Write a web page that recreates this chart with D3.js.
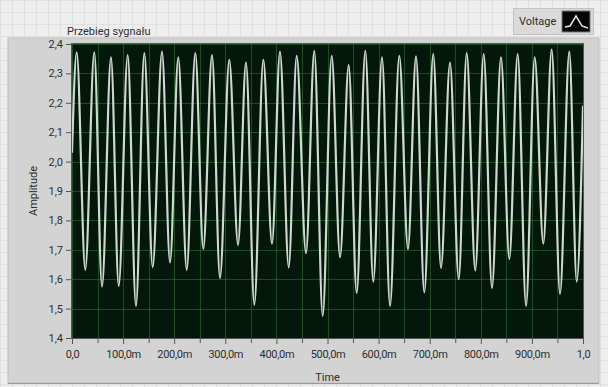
<!DOCTYPE html>
<html>
<head>
<meta charset="utf-8">
<script src="https://cdn.jsdelivr.net/npm/d3@7/dist/d3.min.js"></script>
<style>
  html, body { margin: 0; padding: 0; background: #ededed; }
  svg { display: block; }
  text { font-family: Roboto, "DejaVu Sans", sans-serif; fill: #2e2e2e; }
</style>
</head>
<body>
<svg id="chart" width="608" height="387"></svg>
<script>
// ---- data (extrema of the waveform) ----
const times = [0.0000,
  0.0092,0.0260,0.0436,0.0587,0.0763,0.0914,0.1090,0.1252,0.1415,0.1579,
  0.1761,0.1918,0.2080,0.2245,0.2413,0.2569,0.2740,0.2896,0.3078,0.3249,
  0.3405,0.3568,0.3744,0.3914,0.4070,0.4241,0.4397,0.4579,0.4742,0.4906,
  0.5082,0.5245,0.5415,0.5571,0.5740,0.5896,0.6067,0.6223,0.6405,0.6575,
  0.6732,0.6894,0.7070,0.7221,0.7397,0.7568,0.7724,0.7892,0.8057,0.8219,
  0.8395,0.8558,0.8722,0.8885,0.9055,0.9223,0.9387,0.9550,0.9732,0.9877,
  1.0000];
const voltage = [2.03,
  2.372,1.632,2.372,1.575,2.355,1.577,2.362,1.509,2.369,1.641,
  2.374,1.657,2.355,1.632,2.369,1.703,2.362,1.604,2.346,1.717,
  2.337,1.513,2.346,1.721,2.374,1.640,2.360,1.689,2.377,1.475,
  2.360,1.675,2.328,1.553,2.377,1.592,2.355,1.509,2.360,1.702,
  2.358,1.555,2.366,1.638,2.337,1.600,2.369,1.630,2.366,1.570,
  2.355,1.669,2.366,1.509,2.355,1.721,2.381,1.550,2.374,1.592,
  2.19];
const yTicks = [1.4,1.5,1.6,1.7,1.8,1.9,2.0,2.1,2.2,2.3,2.4];
const xTicks = [0,0.1,0.2,0.3,0.4,0.5,0.6,0.7,0.8,0.9,1.0];
const xTickLabels = ["0,0","100,0m","200,0m","300,0m","400,0m","500,0m","600,0m","700,0m","800,0m","900,0m","1,0"];
const yTickLabels = ["1,4","1,5","1,6","1,7","1,8","1,9","2,0","2,1","2,2","2,3","2,4"];
const xMinorTicks = [0.05,0.15,0.25,0.35,0.45,0.55,0.65,0.75,0.85,0.95];
const chartTitle = "Przebieg sygnału";
const seriesName = "Voltage";

const svg = d3.select("#chart");
const W = 608, H = 387;
const plot = {left: 72, right: 583, top: 44, bottom: 338};

// front panel background grid
const bg = svg.append("g");
bg.append("rect").attr("width", W).attr("height", H).attr("fill", "#eeeeee");
const gridStep = 12;
bg.selectAll("line.v").data(d3.range(0, W, gridStep)).join("line")
  .attr("x1", d => d + 0.5).attr("x2", d => d + 0.5).attr("y1", 0).attr("y2", H)
  .attr("stroke", "#e0e0e0").attr("stroke-width", 1);
bg.selectAll("line.h").data(d3.range(0, H, gridStep)).join("line")
  .attr("y1", d => d + 0.5).attr("y2", d => d + 0.5).attr("x1", 0).attr("x2", W)
  .attr("stroke", "#e0e0e0").attr("stroke-width", 1);

// graph panel
svg.append("rect").attr("x", 8).attr("y", 38).attr("width", 591).attr("height", 345)
  .attr("fill", "#d3d3d3").attr("stroke", "#bdbdbd");
svg.append("line").attr("x1", 8).attr("x2", 599).attr("y1", 383.5).attr("y2", 383.5)
  .attr("stroke", "#9a9a9a");

// title
svg.append("text").attr("x", 67).attr("y", 35).attr("font-size", 11).text(chartTitle);

// legend
const lg = svg.append("g");
lg.append("rect").attr("x", 513.5).attr("y", 8.5).attr("width", 80).attr("height", 26)
  .attr("fill", "#dadada").attr("stroke", "#c2c2c2");
lg.append("text").attr("x", 519).attr("y", 25).attr("font-size", 11).text(seriesName);
lg.append("rect").attr("x", 562).attr("y", 11).attr("width", 28).attr("height", 21)
  .attr("fill", "#050505").attr("stroke", "#777");
lg.append("path").attr("d", "M565,27 L570,26 L576,16 L582,26 L588,28")
  .attr("fill", "none").attr("stroke", "#e6e6e6").attr("stroke-width", 1.5);

// scales
const x = d3.scaleLinear().domain([0, 1]).range([plot.left, plot.right]);
const y = d3.scaleLinear().domain([1.4, 2.4]).range([plot.bottom, plot.top]);

// plot area
svg.append("rect").attr("x", plot.left).attr("y", plot.top)
  .attr("width", plot.right - plot.left).attr("height", plot.bottom - plot.top)
  .attr("fill", "#03170a");

// grid
const grid = svg.append("g").attr("stroke", "#2f7a3c").attr("stroke-opacity", 0.55).attr("stroke-width", 1);
grid.selectAll("line.gx").data(xTicks.concat(xMinorTicks)).join("line")
  .attr("x1", d => Math.round(x(d)) + 0.5).attr("x2", d => Math.round(x(d)) + 0.5)
  .attr("y1", plot.top).attr("y2", plot.bottom);
grid.selectAll("line.gy").data(yTicks).join("line")
  .attr("y1", d => Math.round(y(d)) + 0.5).attr("y2", d => Math.round(y(d)) + 0.5)
  .attr("x1", plot.left).attr("x2", plot.right);

// waveform
const pts = times.map((t, i) => [t, voltage[i]]);
const line = d3.line().x(d => x(d[0])).y(d => y(d[1])).curve(d3.curveMonotoneX);
svg.append("defs").append("clipPath").attr("id", "clip").append("rect")
  .attr("x", plot.left).attr("y", plot.top)
  .attr("width", plot.right - plot.left).attr("height", plot.bottom - plot.top);
svg.append("path").datum(pts).attr("d", line).attr("clip-path", "url(#clip)")
  .attr("fill", "none").attr("stroke", "#cfd8cf").attr("stroke-width", 2.2)
  .attr("stroke-linejoin", "round");

// plot frame
svg.append("rect").attr("x", plot.left - 0.5).attr("y", plot.top - 0.5)
  .attr("width", plot.right - plot.left + 1).attr("height", plot.bottom - plot.top + 1)
  .attr("fill", "none").attr("stroke", "#555").attr("stroke-width", 1);

// axes
const xAxis = d3.axisBottom(x).tickValues(xTicks)
  .tickFormat((d, i) => xTickLabels[i]).tickSize(5).tickPadding(6);
const gx = svg.append("g").attr("transform", `translate(0,${plot.bottom + 1})`).call(xAxis);
gx.select(".domain").remove();
gx.selectAll("line").attr("stroke", "#555");
gx.selectAll("text").attr("font-size", 11).attr("fill", "#2e2e2e")
  .style("font-family", "Roboto, sans-serif").attr("letter-spacing", "-0.3");
const xMinor = d3.axisBottom(x).tickValues(xMinorTicks).tickFormat("").tickSize(4);
const gxm = svg.append("g").attr("transform", `translate(0,${plot.bottom + 1})`).call(xMinor);
gxm.select(".domain").remove();
gxm.selectAll("line").attr("stroke", "#555");

const yAxis = d3.axisLeft(y).tickValues(yTicks)
  .tickFormat((d, i) => yTickLabels[i]).tickSize(5).tickPadding(3);
const gy = svg.append("g").attr("transform", `translate(${plot.left - 1},0)`).call(yAxis);
gy.select(".domain").remove();
gy.selectAll("line").attr("stroke", "#555");
gy.selectAll("text").attr("font-size", 11).attr("fill", "#2e2e2e")
  .style("font-family", "Roboto, sans-serif");

// axis titles
svg.append("text").attr("x", (plot.left + plot.right) / 2).attr("y", 381)
  .attr("text-anchor", "middle").attr("font-size", 11).text("Time");
svg.append("text").attr("transform", `translate(37,${(plot.top + plot.bottom) / 2}) rotate(-90)`)
  .attr("text-anchor", "middle").attr("font-size", 11).text("Amplitude");
</script>
</body>
</html>
